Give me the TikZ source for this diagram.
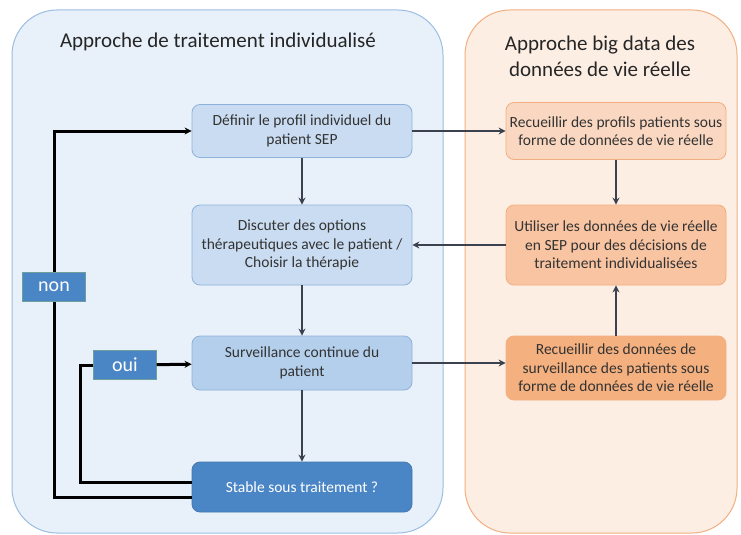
\documentclass[tikz,border=0pt]{standalone}
\usepackage{fontspec}
\setmainfont{Carlito}
\usepackage{xcolor}
\usetikzlibrary{shapes,positioning,arrows.meta}
\definecolor{panelblue}{HTML}{E8F0F9}
\definecolor{paneledge}{HTML}{9CBDE2}
\definecolor{panelorange}{HTML}{FDEEE4}
\definecolor{orangeedge}{HTML}{F2AE80}
\definecolor{boxblue}{HTML}{C9DCF1}
\definecolor{boxbluedark}{HTML}{B4CFEC}
\definecolor{boxedge}{HTML}{8FB2DA}
\definecolor{tagblue}{HTML}{4A86C5}
\definecolor{boxorange}{HTML}{FAD7C1}
\definecolor{boxorangemid}{HTML}{F8C4A2}
\definecolor{boxorangedark}{HTML}{F4B07F}
\definecolor{flowgray}{HTML}{3C4150}
\tikzset{stepblue/.style={rectangle,rounded corners=8pt,draw=boxedge,fill=boxblue,line width=0.8pt,
    minimum width=220pt,inner xsep=2pt,align=center,font=\fontsize{15.5}{18.5}\selectfont,text=black!80},
  steporange/.style={stepblue,draw=orangeedge,fill=boxorange},
  tag/.style={rectangle,fill=tagblue,draw=tagblue!80!yellow,text=white,minimum width=63pt,minimum height=29pt,
    font=\fontsize{20}{22}\selectfont},
  flow/.style={draw=flowgray,line width=1.7pt},
  loop/.style={draw=black,line width=3pt}}

\begin{document}
\begin{tikzpicture}[>={Stealth[length=7pt,width=7pt]},x=1pt,y=-1pt]
    \useasboundingbox (0,0) rectangle (741,535);
    % panels
    \draw[fill=panelblue,draw=paneledge,line width=1pt,rounded corners=45pt] (12,10) rectangle (443,533);
    \draw[fill=panelorange,draw=orangeedge,line width=1pt,rounded corners=45pt] (465,10) rectangle (737,533);
    \node[font=\fontsize{21}{26}\selectfont,text=black!85] (lefttitle) at (218,42) {Approche de traitement individualisé};
    \node[font=\fontsize{21}{26}\selectfont,text=black!85,align=center] (righttitle) at (600,56) {Approche big data des\\données de vie réelle};

    \node[stepblue,minimum height=53pt] (profil) at (302,131) {Définir le profil individuel du\\patient SEP};
    \node[stepblue,minimum height=80pt] (options) at (302,245) {Discuter des options\\thérapeutiques avec le patient /\\Choisir la thérapie};
    \node[stepblue,fill=boxbluedark,minimum height=54pt] (surv) at (302,363) {Surveillance continue du\\patient};
    \node[stepblue,fill=tagblue,draw=tagblue!90!black,text=white,minimum height=50pt] (stable) at (302,487) {Stable sous traitement ?};

    \node[steporange,minimum height=57pt] (recprof) at (616,131) {Recueillir des profils patients sous\\forme de données de vie réelle};
    \node[steporange,fill=boxorangemid,minimum height=80pt] (rwe) at (616,245) {Utiliser les données de vie réelle\\en SEP pour des décisions de\\traitement individualisées};
    \node[steporange,fill=boxorangedark,minimum height=64pt] (recsurv) at (616,368) {Recueillir des données de\\surveillance des patients sous\\forme de données de vie réelle};

    \node[tag] (non) at (54,287) {non};
    \node[tag] (oui) at (125,365) {oui};
    \coordinate (nonturn) at (54,497);
    \coordinate (ouiturn) at (80,482);

    \draw [flow,->] (profil) to [] (options);
    \draw [flow,->] (options) to [] (surv);
    \draw [flow,->] (surv) to [] (stable);
    \draw [flow,->] (recprof) to [] (rwe);
    \draw [flow,->] (recsurv) to [] (rwe);
    \draw [flow,->] (profil) to [] (recprof);
    \draw [flow,->] (rwe) to [] (options);
    \draw [flow,->] (surv.east) to [] (surv.east -| recsurv.west);

    \draw [loop] (stable.west |- nonturn) -| (non.south);
    \draw [loop,->] (non.north) |- (profil.west);
    \draw [loop] (stable.west |- ouiturn) -- (ouiturn) |- (oui.west);
    \draw [loop,->] (oui) to [] (surv);
\end{tikzpicture}
\end{document}
